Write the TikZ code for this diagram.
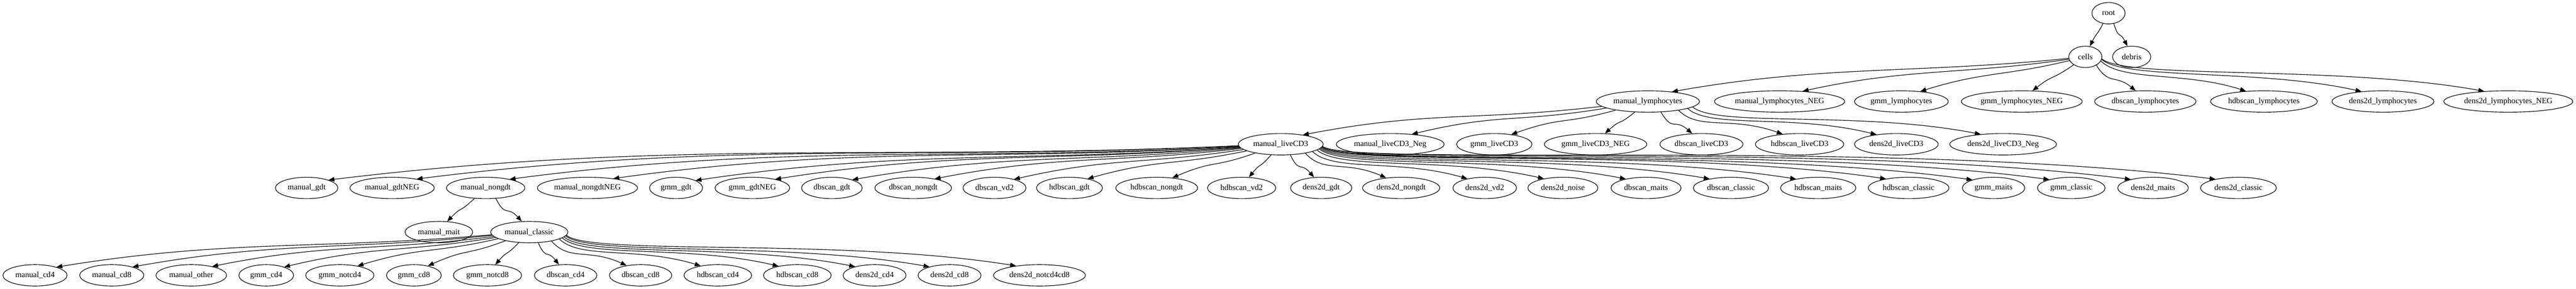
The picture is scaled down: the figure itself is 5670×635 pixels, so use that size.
\documentclass[tikz,border=0pt]{standalone}
\usepackage{fontspec}
\setmainfont{Liberation Serif}
\usetikzlibrary{shapes.geometric,arrows.meta}
\newdimen\gvxa \newdimen\gvya \newdimen\gvxb \newdimen\gvyb
\newcommand\gvl[1]{\makebox[0.9335\width]{#1}}
\newcommand\gvedge[2]{%
  \pgfextractx{\gvxa}{\pgfpointanchor{#1}{center}}%
  \pgfextracty{\gvya}{\pgfpointanchor{#1}{center}}%
  \pgfextractx{\gvxb}{\pgfpointanchor{#2}{center}}%
  \pgfextracty{\gvyb}{\pgfpointanchor{#2}{center}}%
  \pgfmathsetmacro\gvphi{atan2(\gvya-\gvyb,\gvxa-\gvxb)}%
  \pgfmathtruncatemacro\gvsa{\gvphi+180}%
  \pgfmathsetmacro\gvst{ifthenelse(\gvphi>90,\gvphi+180-0.4*(\gvphi-90),\gvphi+180)}%
  \pgfmathtruncatemacro\gvea{\gvphi+0.2*(90-\gvphi)}%
  \pgfmathsetmacro\gvet{\gvphi+0.05*(90-\gvphi)}%
  \pgfmathsetmacro\gvL{veclen(\gvxb-\gvxa,\gvyb-\gvya)}%
  \pgfmathsetmacro\gvda{ifthenelse(\gvphi>90,min(0.35*\gvL,45/max(abs(sin(\gvst)),0.1)),0.35*\gvL)}%
  \pgfmathsetmacro\gvdb{0.35*\gvL}%
  \draw[gvedge] (#1.\gvsa) .. controls +(\gvst:\gvda pt) and +(\gvet:\gvdb pt) .. (#2.\gvea);%
}
\tikzset{
  gvnode/.style={draw, ellipse, line width=1.3pt, minimum width=73pt, minimum height=47pt,
    inner xsep=9.55pt, inner ysep=2pt, font=\fontsize{17.7}{21}\selectfont},
  gvedge/.style={line width=1.3pt, -{Triangle[length=13pt,width=10pt]}}
}
\begin{document}
\begin{tikzpicture}[x=1pt,y=1pt]
\useasboundingbox (0,0) rectangle (5670,-635);
% row 0-1
\node[gvnode] (root) at (4641,-29) {\gvl{root}};
\node[gvnode] (cells) at (4590,-125) {\gvl{cells}};
\node[gvnode] (debris) at (4692,-125) {\gvl{debris}};
% row 2
\node[gvnode] (manual_lymphocytes) at (3627,-223) {\gvl{manual\_lymphocytes}};
\node[gvnode] (manual_lymphocytes_NEG) at (3917,-223) {\gvl{manual\_lymphocytes\_NEG}};
\node[gvnode] (gmm_lymphocytes) at (4185,-223) {\gvl{gmm\_lymphocytes}};
\node[gvnode] (gmm_lymphocytes_NEG) at (4450,-223) {\gvl{gmm\_lymphocytes\_NEG}};
\node[gvnode] (dbscan_lymphocytes) at (4722,-223) {\gvl{dbscan\_lymphocytes}};
\node[gvnode] (hdbscan_lymphocytes) at (4983,-223) {\gvl{hdbscan\_lymphocytes}};
\node[gvnode] (dens2d_lymphocytes) at (5245,-223) {\gvl{dens2d\_lymphocytes}};
\node[gvnode] (dens2d_lymphocytes_NEG) at (5521,-223) {\gvl{dens2d\_lymphocytes\_NEG}};
% row 3
\node[gvnode] (manual_liveCD3) at (2819,-317) {\gvl{manual\_liveCD3}};
\node[gvnode] (manual_liveCD3_Neg) at (3060,-317) {\gvl{manual\_liveCD3\_Neg}};
\node[gvnode] (gmm_liveCD3) at (3289,-317) {\gvl{gmm\_liveCD3}};
\node[gvnode] (gmm_liveCD3_NEG) at (3512,-317) {\gvl{gmm\_liveCD3\_NEG}};
\node[gvnode] (dbscan_liveCD3) at (3745,-317) {\gvl{dbscan\_liveCD3}};
\node[gvnode] (hdbscan_liveCD3) at (3961,-317) {\gvl{hdbscan\_liveCD3}};
\node[gvnode] (dens2d_liveCD3) at (4174,-317) {\gvl{dens2d\_liveCD3}};
\node[gvnode] (dens2d_liveCD3_Neg) at (4409,-317) {\gvl{dens2d\_liveCD3\_Neg}};
% row 4
\node[gvnode] (manual_gdt) at (675,-413) {\gvl{manual\_gdt}};
\node[gvnode] (manual_gdtNEG) at (863,-413) {\gvl{manual\_gdtNEG}};
\node[gvnode] (manual_nongdt) at (1069,-413) {\gvl{manual\_nongdt}};
\node[gvnode] (manual_nongdtNEG) at (1293,-413) {\gvl{manual\_nongdtNEG}};
\node[gvnode] (gmm_gdt) at (1488,-413) {\gvl{gmm\_gdt}};
\node[gvnode] (gmm_gdtNEG) at (1656,-413) {\gvl{gmm\_gdtNEG}};
\node[gvnode] (dbscan_gdt) at (1831,-413) {\gvl{dbscan\_gdt}};
\node[gvnode] (dbscan_nongdt) at (2010,-413) {\gvl{dbscan\_nongdt}};
\node[gvnode] (dbscan_vd2) at (2189,-413) {\gvl{dbscan\_vd2}};
\node[gvnode] (hdbscan_gdt) at (2354,-413) {\gvl{hdbscan\_gdt}};
\node[gvnode] (hdbscan_nongdt) at (2546,-413) {\gvl{hdbscan\_nongdt}};
\node[gvnode] (hdbscan_vd2) at (2733,-413) {\gvl{hdbscan\_vd2}};
\node[gvnode] (dens2d_gdt) at (2908,-413) {\gvl{dens2d\_gdt}};
\node[gvnode] (dens2d_nongdt) at (3084,-413) {\gvl{dens2d\_nongdt}};
\node[gvnode] (dens2d_vd2) at (3268,-413) {\gvl{dens2d\_vd2}};
\node[gvnode] (dens2d_noise) at (3440,-413) {\gvl{dens2d\_noise}};
\node[gvnode] (dbscan_maits) at (3623,-413) {\gvl{dbscan\_maits}};
\node[gvnode] (dbscan_classic) at (3810,-413) {\gvl{dbscan\_classic}};
\node[gvnode] (hdbscan_maits) at (4002,-413) {\gvl{hdbscan\_maits}};
\node[gvnode] (hdbscan_classic) at (4201,-413) {\gvl{hdbscan\_classic}};
\node[gvnode] (gmm_maits) at (4388,-413) {\gvl{gmm\_maits}};
\node[gvnode] (gmm_classic) at (4559,-413) {\gvl{gmm\_classic}};
\node[gvnode] (dens2d_maits) at (4739,-413) {\gvl{dens2d\_maits}};
\node[gvnode] (dens2d_classic) at (4927,-413) {\gvl{dens2d\_classic}};
% row 5
\node[gvnode] (manual_mait) at (966,-510) {\gvl{manual\_mait}};
\node[gvnode] (manual_classic) at (1165,-510) {\gvl{manual\_classic}};
% row 6
\node[gvnode] (manual_cd4) at (77,-605) {\gvl{manual\_cd4}};
\node[gvnode] (manual_cd8) at (246,-605) {\gvl{manual\_cd8}};
\node[gvnode] (manual_other) at (421,-605) {\gvl{manual\_other}};
\node[gvnode] (gmm_cd4) at (586,-605) {\gvl{gmm\_cd4}};
\node[gvnode] (gmm_notcd4) at (748,-605) {\gvl{gmm\_notcd4}};
\node[gvnode] (gmm_cd8) at (911,-605) {\gvl{gmm\_cd8}};
\node[gvnode] (gmm_notcd8) at (1073,-605) {\gvl{gmm\_notcd8}};
\node[gvnode] (dbscan_cd4) at (1245,-605) {\gvl{dbscan\_cd4}};
\node[gvnode] (dbscan_cd8) at (1410,-605) {\gvl{dbscan\_cd8}};
\node[gvnode] (hdbscan_cd4) at (1580,-605) {\gvl{hdbscan\_cd4}};
\node[gvnode] (hdbscan_cd8) at (1755,-605) {\gvl{hdbscan\_cd8}};
\node[gvnode] (dens2d_cd4) at (1925,-605) {\gvl{dens2d\_cd4}};
\node[gvnode] (dens2d_cd8) at (2090,-605) {\gvl{dens2d\_cd8}};
\node[gvnode] (dens2d_notcd4cd8) at (2288,-605) {\gvl{dens2d\_notcd4cd8}};
% edges
\gvedge{root}{cells}
\gvedge{root}{debris}
\foreach \c in {manual_lymphocytes,manual_lymphocytes_NEG,gmm_lymphocytes,gmm_lymphocytes_NEG,dbscan_lymphocytes,hdbscan_lymphocytes,dens2d_lymphocytes,dens2d_lymphocytes_NEG}{\gvedge{cells}{\c}}
\foreach \c in {manual_liveCD3,manual_liveCD3_Neg,gmm_liveCD3,gmm_liveCD3_NEG,dbscan_liveCD3,hdbscan_liveCD3,dens2d_liveCD3,dens2d_liveCD3_Neg}{\gvedge{manual_lymphocytes}{\c}}
\foreach \c in {manual_gdt,manual_gdtNEG,manual_nongdt,manual_nongdtNEG,gmm_gdt,gmm_gdtNEG,dbscan_gdt,dbscan_nongdt,dbscan_vd2,hdbscan_gdt,hdbscan_nongdt,hdbscan_vd2,dens2d_gdt,dens2d_nongdt,dens2d_vd2,dens2d_noise,dbscan_maits,dbscan_classic,hdbscan_maits,hdbscan_classic,gmm_maits,gmm_classic,dens2d_maits,dens2d_classic}{\gvedge{manual_liveCD3}{\c}}
\gvedge{manual_nongdt}{manual_mait}
\gvedge{manual_nongdt}{manual_classic}
\foreach \c in {manual_cd4,manual_cd8,manual_other,gmm_cd4,gmm_notcd4,gmm_cd8,gmm_notcd8,dbscan_cd4,dbscan_cd8,hdbscan_cd4,hdbscan_cd8,dens2d_cd4,dens2d_cd8,dens2d_notcd4cd8}{\gvedge{manual_classic}{\c}}
\end{tikzpicture}
\end{document}
